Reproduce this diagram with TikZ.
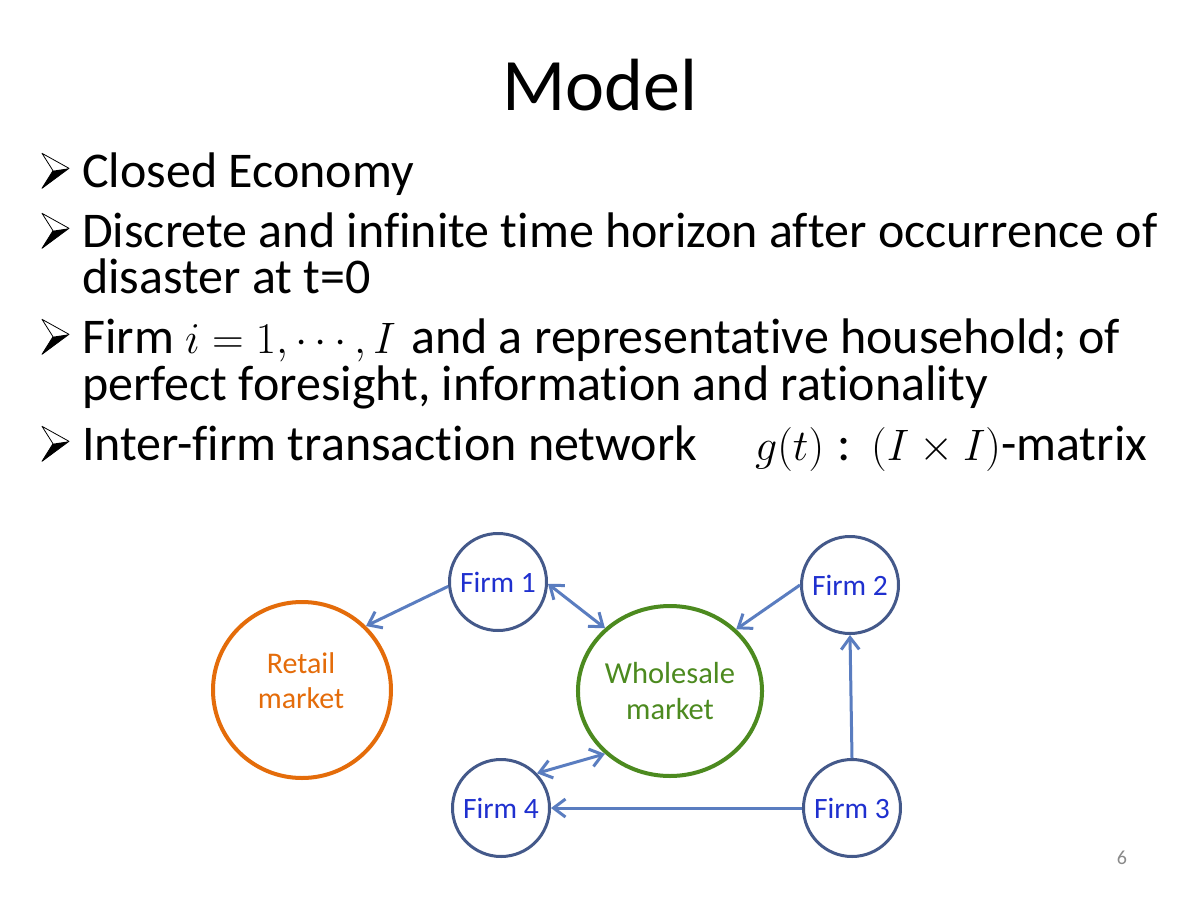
\RequirePackage{fix-cm}
\documentclass[tikz,border=0pt]{standalone}
\usepackage[no-math]{fontspec}
\setmainfont{Carlito}[Ligatures=NoCommon]
\usetikzlibrary{arrows.meta,shapes.geometric}
\definecolor{firmline}{HTML}{44598A}
\definecolor{arrowc}{HTML}{5A7DC0}
\definecolor{firmtxt}{HTML}{1F30CF}
\definecolor{retailc}{HTML}{E46C0A}
\definecolor{wholec}{HTML}{4C8A1F}
\definecolor{pagec}{HTML}{8A8A8A}
\tikzset{
  bodytext/.style={anchor=base west, inner sep=0pt, font=\fontsize{50}{60}\selectfont},
  mathtext/.style={anchor=base west, inner sep=0pt, font=\fontsize{44}{52}\selectfont},
  firm/.style={circle, draw=firmline, line width=3pt, minimum size=97pt, inner sep=0pt,
    text=firmtxt, font=\fontsize{29.5}{35}\selectfont},
  market/.style={ellipse, line width=4pt, inner sep=0pt},
  tipb/.tip={Straight Barb[length=12pt,width=18pt]},
  flow/.style={draw=arrowc, line width=3pt, -tipb},
  bflow/.style={draw=arrowc, line width=3pt, tipb-tipb},
}
\newcommand\slidebullet[1]{%
  \fill[black] (42,#1+1.3) -- (69,#1-18.7) -- (53,#1-16.3) -- cycle;
  \draw[black, line width=0.8pt, line join=round] (42,#1-33.7) -- (69,#1-18.7) -- (42,#1+1.3) -- (53,#1-16.3) -- cycle;
}
\begin{document}
\begin{tikzpicture}[x=1pt,y=-1pt]
\useasboundingbox[fill=white] (0,0) rectangle (1200,900);

% title
\node[anchor=base, inner sep=0pt, font=\fontsize{74}{88}\selectfont] (title) at (600,110) {Model};

% bullets
\slidebullet{187}
\slidebullet{247}
\slidebullet{353}
\slidebullet{460}
\node[bodytext] (b1) at (82,187) {Closed Economy};
\node[bodytext] (b2) at (82,247) {Discrete and infinite time horizon after occurrence of};
\node[bodytext] (b2b) at (82,293) {disaster at t=0};
\node[bodytext] (b3) at (82,353) {Firm};
\node[mathtext] (b3m) at (185,353) {$i=1,\cdots,I$};
\node[bodytext] (b3c) at (411,353) {and a representative household; of};
\node[bodytext] (b3b) at (82,400) {perfect foresight, information and rationality};
\node[bodytext] (b4) at (82,460) {Inter-firm transaction network};
\node[mathtext] (b4m) at (755,460) {$g(t)$};
\node[bodytext] (b4c) at (837,460) {:};
\node[bodytext] (b4d) at (871,460) {\fontsize{44}{52}\selectfont$(I\times I)$\fontsize{50}{60}\selectfont-matrix};

% diagram
\node[firm] (f1) at (498,582) {Firm 1};
\node[firm] (f2) at (850,585) {Firm 2};
\node[firm] (f3) at (852,808) {Firm 3};
\node[firm] (f4) at (501,808) {Firm 4};
\node[market, draw=retailc, minimum width=178pt, minimum height=176pt] (retail) at (302,690) {};
\node[inner sep=0pt, align=center, text=retailc, font=\fontsize{30}{35}\selectfont] (retailtxt) at (301,681) {Retail\\market};
\node[market, draw=wholec, minimum width=178pt, minimum height=170pt, align=center,
  text=wholec, font=\fontsize{30.5}{36}\selectfont] (whole) at (670,691) {Wholesale\\market};

\draw[flow] (f1.185) -- (retail.45);
\draw[bflow] (f1.-2) -- (whole.136);
\draw[flow] (f2.west) -- (whole.43);
\draw[flow] (f3.north) -- (f2.south);
\draw[flow] (f3.west) -- (f4.east);
\draw[bflow] (f4.44) -- (whole.224);

% page number
\node[inner sep=0pt, text=pagec, font=\fontsize{20}{24}\selectfont] (pagenum) at (1122,858) {6};
\end{tikzpicture}
\end{document}
